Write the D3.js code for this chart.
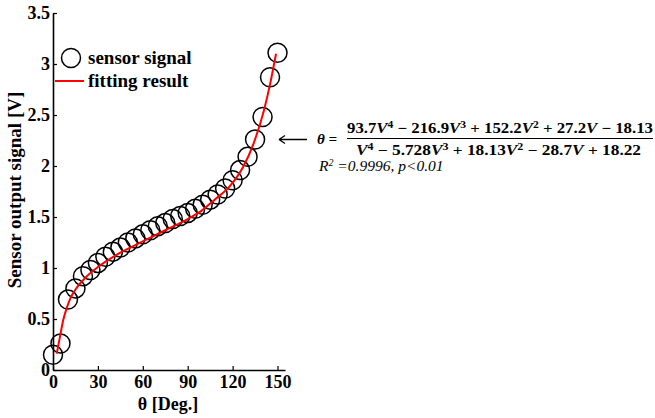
<!DOCTYPE html>
<html>
<head>
<meta charset="utf-8">
<script src="https://cdn.jsdelivr.net/npm/d3@7"></script>
<style>
  body { margin: 0; background: #fff; }
  svg text { font-family: "Liberation Serif", "Times New Roman", serif; }
</style>
</head>
<body>
<svg id="chart" width="655" height="418"></svg>
<script>
// measured points (angle in degrees, sensor output in V)
var thetaDeg = [0, 5, 10, 15, 20, 25, 30, 35, 40, 45, 50, 55, 60, 65, 70, 75,
                80, 85, 90, 95, 100, 105, 110, 115, 120, 125, 130, 135, 140, 145, 150];
var signalV = [0.15, 0.26, 0.69, 0.80, 0.92, 0.98, 1.05, 1.11, 1.16, 1.20, 1.25, 1.29, 1.33, 1.37, 1.41, 1.44,
               1.48, 1.51, 1.54, 1.58, 1.62, 1.67, 1.72, 1.78, 1.86, 1.96, 2.09, 2.26, 2.48, 2.87, 3.11];

// fitted curve
var fitTheta = [2.5, 4.7, 7, 9, 11.5, 16, 22, 31, 45, 60, 75, 90, 100, 108, 118, 127, 134, 141, 145, 149];
var fitV = [0.16, 0.33, 0.50, 0.60, 0.70, 0.81, 0.91, 1.02, 1.15, 1.26, 1.37, 1.48, 1.57, 1.67, 1.80, 1.99, 2.22, 2.55, 2.80, 3.10];

var xTicks = [0, 30, 60, 90, 120, 150];
var yTicks = [0, 0.5, 1, 1.5, 2, 2.5, 3, 3.5];
var yTickLabels = ["0", "0.5", "1", "1.5", "2", "2.5", "3", "3.5"];

var svg = d3.select("#chart");

var margin = {top: 13, left: 53};

var x = d3.scaleLinear().domain([0, 155]).range([0, 232]);
var y = d3.scaleLinear().domain([0, 3.5]).range([357, 0]);

var plot = svg.append("g")
  .attr("transform", "translate(" + margin.left + "," + margin.top + ")");

// axes (ticks point inward)
var xAxis = d3.axisBottom(x).tickValues(xTicks).tickSizeInner(-4).tickSizeOuter(0).tickPadding(5);
var yAxis = d3.axisLeft(y).tickValues(yTicks).tickSizeInner(-4).tickSizeOuter(0).tickPadding(3)
  .tickFormat(function(d, i) { return yTickLabels[i]; });

var xGroup = plot.append("g").attr("transform", "translate(0," + y(0) + ")").call(xAxis);
var yGroup = plot.append("g").call(yAxis);

[xGroup, yGroup].forEach(function(g) {
  g.select(".domain").attr("stroke", "#000").attr("stroke-width", 1.6);
  g.selectAll(".tick line").attr("stroke", "#000").attr("stroke-width", 1.2);
  g.selectAll(".tick text")
    .attr("fill", "#000")
    .style("font-size", "18px")
    .style("font-weight", "bold")
    .style("font-family", "'Liberation Serif', serif");
});

// data circles
plot.selectAll("circle.pt")
  .data(thetaDeg)
  .enter().append("circle")
  .attr("class", "pt")
  .attr("cx", function(d) { return x(d); })
  .attr("cy", function(d, i) { return y(signalV[i]); })
  .attr("r", 9.5)
  .attr("fill", "none")
  .attr("stroke", "#000")
  .attr("stroke-width", 1.5);

// fit curve
var line = d3.line()
  .x(function(d) { return x(d); })
  .y(function(d, i) { return y(fitV[i]); })
  .curve(d3.curveMonotoneX);

plot.append("path")
  .datum(fitTheta)
  .attr("d", line)
  .attr("fill", "none")
  .attr("stroke", "#ff0000")
  .attr("stroke-width", 2);

// axis titles
svg.append("text")
  .attr("x", 168).attr("y", 410)
  .attr("text-anchor", "middle")
  .style("font-size", "18px").style("font-weight", "bold")
  .text("θ [Deg.]");

svg.append("text")
  .attr("transform", "translate(21,190) rotate(-90)")
  .attr("text-anchor", "middle")
  .style("font-size", "19px").style("font-weight", "bold")
  .text("Sensor output signal [V]");

// legend
var legend = svg.append("g");
legend.append("circle")
  .attr("cx", 71).attr("cy", 58).attr("r", 9.5)
  .attr("fill", "none").attr("stroke", "#000").attr("stroke-width", 1.5);
legend.append("text")
  .attr("x", 88).attr("y", 64)
  .style("font-size", "19px").style("font-weight", "bold")
  .text("sensor signal");
legend.append("line")
  .attr("x1", 55).attr("x2", 84).attr("y1", 81).attr("y2", 81)
  .attr("stroke", "#ff0000").attr("stroke-width", 2);
legend.append("text")
  .attr("x", 88).attr("y", 87)
  .style("font-size", "19px").style("font-weight", "bold")
  .text("fitting result");

// arrow pointing at the fit
svg.append("path")
  .attr("d", "M279,139.5 L307,139.5 M279,139.5 L285,135.5 M279,139.5 L285,143.5")
  .attr("fill", "none").attr("stroke", "#000").attr("stroke-width", 1.3);

// formula
var eq = svg.append("g").style("font-family", "'DejaVu Serif', 'Liberation Serif', serif");

eq.append("text")
  .attr("x", 317).attr("y", 144)
  .style("font-size", "15px").style("font-weight", "bold").style("font-style", "italic")
  .text("θ =");

function addPoly(parts, xPos, yPos, len) {
  var t = eq.append("text")
    .attr("x", xPos).attr("y", yPos)
    .attr("textLength", len).attr("lengthAdjust", "spacingAndGlyphs")
    .style("font-size", "14.5px").style("font-weight", "bold");
  parts.forEach(function(p) {
    var s = t.append("tspan").text(p[0]);
    if (p[1] == "v") s.style("font-style", "italic");
    if (p[1] == "sup") s.attr("dy", -5).style("font-size", "10px");
    if (p[1] == "after") s.attr("dy", 5);
  });
}

addPoly([["93.7", ""], ["V", "v"], ["4", "sup"], [" − 216.9", "after"], ["V", "v"], ["3", "sup"],
         [" + 152.2", "after"], ["V", "v"], ["2", "sup"], [" + 27.2", "after"], ["V", "v"], [" − 18.13", ""]],
        347, 133, 306);

eq.append("line")
  .attr("x1", 347).attr("x2", 653).attr("y1", 138.5).attr("y2", 138.5)
  .attr("stroke", "#000").attr("stroke-width", 1.2);

addPoly([["V", "v"], ["4", "sup"], [" − 5.728", "after"], ["V", "v"], ["3", "sup"],
         [" + 18.13", "after"], ["V", "v"], ["2", "sup"], [" − 28.7", "after"], ["V", "v"], [" + 18.22", ""]],
        356, 155, 285);

var r2 = svg.append("text")
  .attr("x", 319).attr("y", 171)
  .style("font-size", "15.5px").style("font-style", "italic");
r2.append("tspan").text("R");
r2.append("tspan").text("2").attr("dy", -5).style("font-size", "10px");
r2.append("tspan").text(" =0.9996, p<0.01").attr("dy", 5);
</script>
</body>
</html>
